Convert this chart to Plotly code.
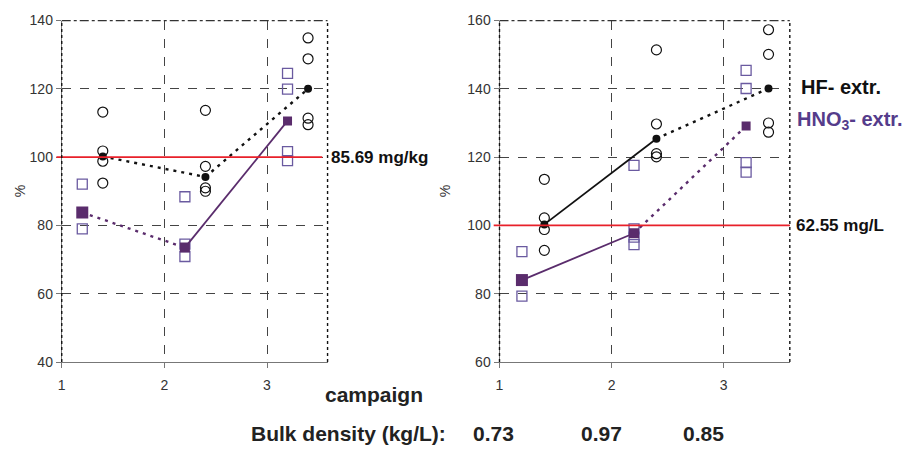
import plotly.graph_objects as go

# ---------------- data ----------------
hno3_x = [1.2, 2.2, 3.2]
hf_x = [1.4, 2.4, 3.4]
campaign_ticks = [1, 2, 3]

L_hno3_reps = [[92.1, 79.0], [88.4, 74.5, 70.9], [124.5, 119.9, 101.6, 99.0]]
L_hno3_mean = [83.8, 73.5, 110.6]
L_hf_reps = [[113.2, 101.8, 98.8, 92.4], [113.7, 97.3, 91.0, 90.0], [134.9, 128.8, 111.4, 109.5]]
L_hf_mean = [100.2, 94.2, 120.0]

R_hno3_reps = [[92.3, 79.3], [117.6, 99.0, 96.6, 94.4], [145.4, 140.1, 118.4, 115.6]]
R_hno3_mean = [84.0, 97.7, 129.1]
R_hf_reps = [[113.5, 102.2, 98.8, 92.7], [151.4, 129.7, 121.0, 120.1], [157.3, 150.1, 130.0, 127.3]]
R_hf_mean = [100.3, 125.4, 140.1]

# line styles per segment (campaign1->2, campaign2->3)
L_hf_seg = ["dot", "dot"]
L_hno3_seg = ["dot", "solid"]
R_hf_seg = ["solid", "dot"]
R_hno3_seg = ["solid", "dot"]

ref_labels = ["85.69 mg/kg", "62.55 mg/L"]
bulk_density = ["0.73", "0.97", "0.85"]

# ---------------- style ----------------
W, H = 906, 452
PURPLE = "#5a2c6c"
PURPLE_OPEN = "#6a5aa0"
FONT = "Liberation Sans, Arial, sans-serif"
DOTDASH = "3px,5px"

fig = go.Figure()


def add_panel(xa, ya, hno3_reps, hno3_mean, hf_reps, hf_mean, hf_seg, hno3_seg):
    xs, ys = [], []
    for x, reps in zip(hno3_x, hno3_reps):
        xs += [x] * len(reps)
        ys += reps
    fig.add_trace(go.Scatter(x=xs, y=ys, mode="markers", xaxis=xa, yaxis=ya,
                             marker=dict(symbol="square-open", size=10, color=PURPLE_OPEN,
                                         line=dict(width=1.3)), showlegend=False))
    xs, ys = [], []
    for x, reps in zip(hf_x, hf_reps):
        xs += [x] * len(reps)
        ys += reps
    fig.add_trace(go.Scatter(x=xs, y=ys, mode="markers", xaxis=xa, yaxis=ya,
                             marker=dict(symbol="circle-open", size=10, color="#111",
                                         line=dict(width=1.2)), showlegend=False))
    for i in range(2):
        d = DOTDASH if hf_seg[i] == "dot" else "solid"
        fig.add_trace(go.Scatter(x=hf_x[i:i + 2], y=hf_mean[i:i + 2], mode="lines",
                                 xaxis=xa, yaxis=ya,
                                 line=dict(color="#111", width=2.4 if d != "solid" else 1.8, dash=d),
                                 showlegend=False))
        d = DOTDASH if hno3_seg[i] == "dot" else "solid"
        fig.add_trace(go.Scatter(x=hno3_x[i:i + 2], y=hno3_mean[i:i + 2], mode="lines",
                                 xaxis=xa, yaxis=ya,
                                 line=dict(color=PURPLE, width=2.4 if d != "solid" else 1.8, dash=d),
                                 showlegend=False))
    fig.add_trace(go.Scatter(x=hno3_x, y=hno3_mean, mode="markers", xaxis=xa, yaxis=ya,
                             marker=dict(symbol="square", size=[12, 10, 9], color=PURPLE,
                                         opacity=1, line=dict(width=0)),
                             showlegend=False))
    fig.add_trace(go.Scatter(x=hf_x, y=hf_mean, mode="markers", xaxis=xa, yaxis=ya,
                             marker=dict(symbol="circle", size=8, color="#111", opacity=1),
                             showlegend=False))


add_panel("x", "y", L_hno3_reps, L_hno3_mean, L_hf_reps, L_hf_mean, L_hf_seg, L_hno3_seg)
add_panel("x2", "y2", R_hno3_reps, R_hno3_mean, R_hf_reps, R_hf_mean, R_hf_seg, R_hno3_seg)

ydom = [1 - 367 / H, 1 - 13 / H]
axis_common = dict(showgrid=True, gridcolor="#444", griddash="dash", gridwidth=1,
                   zeroline=False, showline=True, linecolor="#777", linewidth=1,
                   ticks="outside", ticklen=5, tickcolor="#777",
                   tickfont=dict(family=FONT, size=14, color="#333"))

fig.update_layout(
    width=W, height=H, margin=dict(l=0, r=0, t=0, b=0),
    paper_bgcolor="white", plot_bgcolor="white",
    xaxis=dict(domain=[58 / W, 325 / W], range=[1, 3.59], tickvals=campaign_ticks,
               anchor="y", ticklabelstandoff=5, **axis_common),
    yaxis=dict(domain=ydom, range=[40, 140], tickvals=[40, 60, 80, 100, 120, 140],
               anchor="x", **axis_common),
    xaxis2=dict(domain=[497.7 / W, 789.3 / W], range=[1, 3.59], tickvals=campaign_ticks,
                anchor="y2", ticklabelstandoff=5, **axis_common),
    yaxis2=dict(domain=ydom, range=[60, 160], tickvals=[60, 80, 100, 120, 140, 160],
                anchor="x2", **axis_common),
)

shapes = []
for xr, yr in [("x", "y"), ("x2", "y2")]:
    shapes.append(dict(type="line", xref=f"{xr} domain", yref=yr, x0=-0.02, x1=0.98 if xr == "x" else 1.0,
                       y0=100, y1=100, line=dict(color="#e8202a", width=1.6)))
    shapes.append(dict(type="line", xref=f"{xr} domain", yref=f"{yr} domain", x0=0, x1=1, y0=1, y1=1,
                       line=dict(color="#333", width=1.2, dash="dashdot")))
    shapes.append(dict(type="line", xref=f"{xr} domain", yref=f"{yr} domain", x0=1, x1=1, y0=0, y1=1,
                       line=dict(color="#111", width=1.4, dash="dot")))
    shapes.append(dict(type="line", xref=f"{xr} domain", yref=f"{yr} domain", x0=0, x1=0, y0=0, y1=1,
                       line=dict(color="#111", width=1.4, dash="dot")))
fig.update_layout(shapes=shapes)


def txt(text, xp, yp, size, color="#111", xanchor="center", angle=0):
    return dict(text=text, x=xp / W, xref="paper", y=1 - yp / H, yref="paper",
                xanchor=xanchor, yanchor="middle", showarrow=False, textangle=angle,
                font=dict(family=FONT, size=size, color=color))


ann = [
    dict(text=f"<b>{ref_labels[0]}</b>", x=326 / W, xref="paper", y=100, yref="y", xanchor="left",
         yanchor="middle", showarrow=False, font=dict(family=FONT, size=17, color="#111")),
    dict(text=f"<b>{ref_labels[1]}</b>", x=794 / W, xref="paper", y=100, yref="y2", xanchor="left",
         yanchor="middle", showarrow=False, font=dict(family=FONT, size=17, color="#111")),
    txt("<b>HF- extr.</b>", 799, 82, 20, xanchor="left"),
    txt("<b>HNO<sub>3</sub>- extr.</b>", 795, 117, 20, color="#553c8b", xanchor="left"),
    txt("%", 16, 190, 14, color="#333", angle=-90),
    txt("%", 443, 190, 14, color="#333", angle=-90),
    txt("<b>campaign</b>", 372, 401, 21, color="#222"),
    txt("<b>Bulk density (kg/L):</b>", 246, 441, 21, color="#222", xanchor="left"),
]
for xp, v in zip([492, 600, 703], bulk_density):
    ann.append(txt(f"<b>{v}</b>", xp, 441, 21, color="#222"))
fig.update_layout(annotations=ann)

fig.write_html("out.html")
